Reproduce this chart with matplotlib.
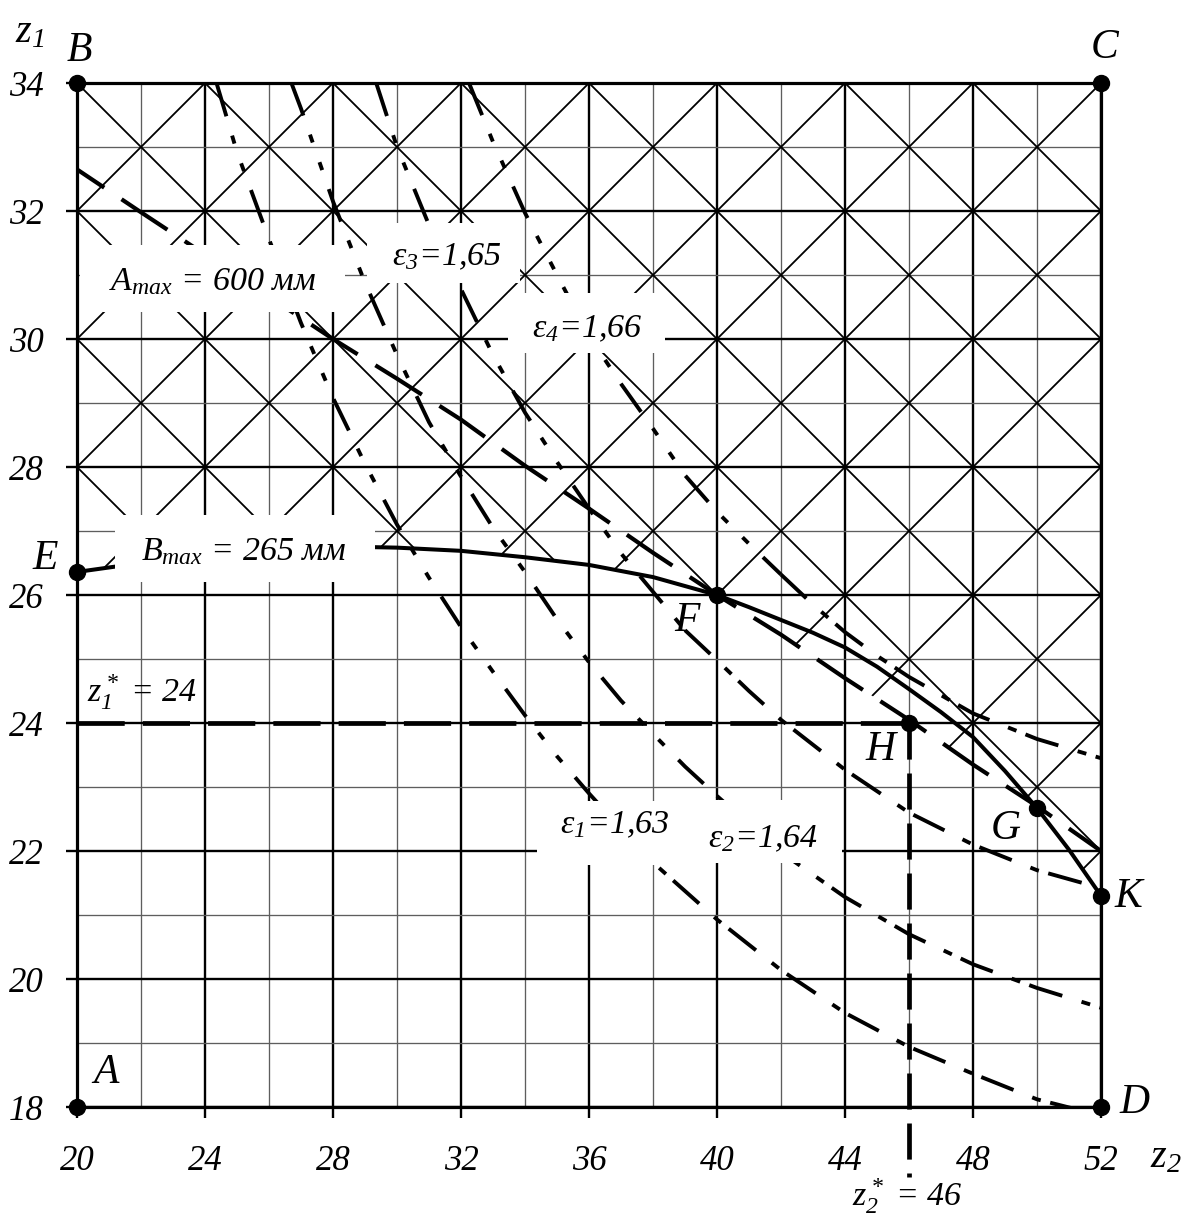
import numpy as np
import matplotlib
matplotlib.use("Agg")
import matplotlib.pyplot as plt
from matplotlib.patches import Polygon, Rectangle

plt.rcParams["font.family"] = ["Liberation Serif", "DejaVu Serif"]
plt.rcParams["font.style"] = "italic"
plt.rcParams["mathtext.fontset"] = "custom"
plt.rcParams["mathtext.rm"] = "Liberation Serif:italic"
plt.rcParams["mathtext.it"] = "Liberation Serif:italic"
plt.rcParams["mathtext.bf"] = "Liberation Serif:italic:bold"
plt.rcParams["lines.scale_dashes"] = False

# Axes
z2_ticks = [20, 24, 28, 32, 36, 40, 44, 48, 52]
z1_ticks = [18, 20, 22, 24, 26, 28, 30, 32, 34]
z2_minor = [22, 26, 30, 34, 38, 42, 46, 50]
z1_minor = [19, 21, 23, 25, 27, 29, 31, 33]

# A_max = 600 mm (long dashes)
a_max_z2 = [20, 22, 24, 26, 28, 30, 32, 34, 36, 38, 40, 42, 44, 46, 48, 50, 52]
a_max_z1 = [32.65, 31.98, 31.32, 30.66, 30.0, 29.38, 28.74, 28.02, 27.35,
            26.66, 26.0, 25.38, 24.7, 24.05, 23.35, 22.7, 22.0]

# B_max = 265 mm (solid)
b_max_z2 = [20, 22, 24, 26, 28, 30, 32, 34, 36, 38, 40, 41, 42, 43, 44, 45,
            46, 47, 48, 49, 50, 51, 52]
b_max_z1 = [26.36, 26.5, 26.62, 26.71, 26.76, 26.74, 26.69, 26.59, 26.47,
            26.28, 26.0, 25.81, 25.61, 25.41, 25.18, 24.88, 24.53, 24.17,
            23.78, 23.25, 22.67, 22.02, 21.3]

# contact ratio isolines
eps1_z2 = [24.36, 25, 26, 27, 28, 29, 30, 31, 32, 33, 34, 35, 36, 37, 38,
           40, 42, 44, 46, 48, 50, 51.1]
eps1_z1 = [34.0, 32.92, 31.56, 30.25, 29.08, 28.05, 27.1, 26.27, 25.5, 24.8,
           24.12, 23.48, 22.9, 22.35, 21.82, 20.93, 20.14, 19.47, 18.94,
           18.52, 18.12, 17.98]
eps2_z2 = [26.7, 27, 28, 29, 30, 31, 32, 33, 34, 35, 36, 37, 38, 39, 40,
           42, 44, 46, 48, 50, 52]
eps2_z1 = [34.0, 33.6, 32.15, 30.88, 29.75, 28.7, 27.85, 27.05, 26.36, 25.62,
           24.95, 24.35, 23.83, 23.32, 22.86, 21.98, 21.28, 20.7, 20.23,
           19.86, 19.55]
eps3_z2 = [29.35, 30, 31, 32, 33, 34, 35, 36, 37, 38, 39, 40, 41, 42, 44,
           46, 48, 50, 52]
eps3_z1 = [34.0, 33.0, 31.78, 30.78, 29.75, 28.85, 28.08, 27.35, 26.65,
           26.05, 25.45, 24.98, 24.5, 24.05, 23.27, 22.6, 22.1, 21.7, 21.42]
eps4_z2 = [32.25, 33, 34, 35, 36, 37, 38, 39, 40, 41, 42, 43, 44, 45, 46,
           48, 50, 52]
eps4_z1 = [34.0, 33.08, 31.97, 31.0, 30.05, 29.3, 28.6, 27.87, 27.3, 26.8,
           26.32, 25.85, 25.42, 25.05, 24.72, 24.15, 23.75, 23.45]
eps_labels = [r"$\varepsilon_1$=1,63", r"$\varepsilon_2$=1,64",
              r"$\varepsilon_3$=1,65", r"$\varepsilon_4$=1,66"]

# chosen tooth numbers
z1_star = 24
z2_star = 46

# named points
point_names = ["A", "B", "C", "D", "E", "F", "G", "H", "K"]
point_z2 = [20, 20, 52, 52, 20, 40, 50, 46, 52]
point_z1 = [18, 34, 34, 18, 26.36, 26, 22.67, 24, 21.3]

# layout (not data): label offsets, white boxes, text anchors
letter_pos = {"A": (20.9, 18.53), "B": (20.06, 34.5), "C": (52.12, 34.55),
              "D": (53.06, 18.06), "E": (19.0, 26.56), "F": (39.06, 25.6),
              "G": (49.03, 22.34), "H": (45.1, 23.58), "K": (52.84, 21.28)}
eps_split = [37, 40, 39, 42]
eps_text_pos = [(36.81, 22.28), (41.44, 22.06), (31.56, 31.16), (35.95, 30.03)]
white_boxes = [(20.09, 30.42, 8.29, 1.05), (29.06, 30.875, 4.78, 0.94),
               (33.47, 29.78, 4.905, 0.94), (21.19, 26.2, 8.12, 1.05),
               (34.375, 21.78, 4.875, 1.0), (39.0, 21.81, 4.91, 0.99)]

DASH_UPPER = (0, (25, 14.5, 6, 15, 6, 14.5))
DASH_LOWER = (0, (25, 14.5, 6.5, 7))
LABEL_SIZE = 24.5


def draw_grid(ax):
    """ """

    ax.set_xlim(z2_ticks[0], z2_ticks[-1])
    ax.set_ylim(z1_ticks[0], z1_ticks[-1])
    ax.set_xticks(z2_ticks)
    ax.set_yticks(z1_ticks)
    ax.set_xticks(z2_minor, minor=True)
    ax.set_yticks(z1_minor, minor=True)
    ax.grid(which="major", color="black", linewidth=1.7)
    ax.grid(which="minor", color="#5e5e5e", linewidth=0.95)
    ax.set_axisbelow(True)
    ax.tick_params(which="minor", length=0)
    ax.tick_params(axis="x", which="major", length=8, width=1.7, pad=19,
                   labelsize=25)
    ax.tick_params(axis="y", which="major", length=8, width=1.7, pad=16,
                   labelsize=25)
    for lbl in ax.get_xticklabels() + ax.get_yticklabels():
        lbl.set_fontstyle("italic")
    for spine in ax.spines.values():
        spine.set_linewidth(2.3)


def draw_hatch(ax):
    """Diamond hatching above the lower envelope of A_max and B_max."""

    zz = np.linspace(z2_ticks[0], z2_ticks[-1], 641)
    lower = np.minimum(np.interp(zz, a_max_z2, a_max_z1),
                       np.interp(zz, b_max_z2, b_max_z1))
    verts = [(z2_ticks[0], z1_ticks[-1]), (z2_ticks[-1], z1_ticks[-1])]
    verts += list(zip(zz[::-1], lower[::-1]))
    region = Polygon(verts, closed=True, transform=ax.transData,
                     facecolor="none", edgecolor="none")
    ax.add_patch(region)

    xs = np.array([z2_ticks[0], z2_ticks[-1]], dtype=float)
    for c in range(28, 61, 2):
        ln, = ax.plot(xs, c - 0.5 * xs, color="black", lw=1.3, zorder=1.5)
        ln.set_clip_path(region)
    for c in range(-8, 25, 2):
        ln, = ax.plot(xs, c + 0.5 * xs, color="black", lw=1.3, zorder=1.5)
        ln.set_clip_path(region)


def draw_curves(ax):
    """ """

    ax.plot(a_max_z2, a_max_z1, color="black", lw=3.0,
            ls=(16, (39.6, 15)), zorder=3)
    ax.plot(b_max_z2, b_max_z1, color="black", lw=2.9, zorder=3)

    eps_curves = [(eps1_z2, eps1_z1), (eps2_z2, eps2_z1),
                  (eps3_z2, eps3_z1), (eps4_z2, eps4_z1)]
    for (xs, ys), split in zip(eps_curves, eps_split):
        xs = np.asarray(xs)
        ys = np.asarray(ys)
        up = xs <= split
        low = xs >= split
        ax.plot(xs[up], ys[up], color="black", lw=2.8, ls=DASH_UPPER,
                zorder=3)
        ax.plot(xs[low], ys[low], color="black", lw=2.8, ls=DASH_LOWER,
                zorder=3)

    # z1* and z2* guide lines
    ax.plot([z2_ticks[0], z2_star], [z1_star, z1_star], color="black",
            lw=3.4, ls=(0, (34, 13)), zorder=3)
    ax.plot([z2_star, z2_star], [z1_star, 16.9], color="black", lw=3.4,
            ls=(0, (26, 10)), zorder=3, clip_on=False)


def draw_labels(ax):
    """ """

    for (x, y, w, h) in white_boxes:
        ax.add_patch(Rectangle((x, y), w, h, facecolor="white",
                               edgecolor="none", zorder=5))

    kw = dict(fontsize=LABEL_SIZE, ha="center", va="baseline", zorder=6)
    ax.text(24.25, 30.77, r"$A_{max}$ = 600 мм", **kw)
    ax.text(25.2, 26.55, r"$B_{max}$ = 265 мм", **kw)
    for label, (x, y) in zip(eps_labels, eps_text_pos):
        ax.text(x, y, label, **kw)
    ax.text(22.02, 24.33, r"$z_1^*$ = 24", **kw)
    ax.text(45.94, 16.46, r"$z_2^*$ = 46", clip_on=False, **kw)

    # axis names
    ax.text(18.53, 34.78, r"$z_1$", fontsize=29, ha="center", va="center",
            clip_on=False)
    ax.text(54.03, 17.2, r"$z_2$", fontsize=29, ha="center", va="center",
            clip_on=False)

    # points
    ax.plot(point_z2, point_z1, "o", color="black", markersize=11.5,
            zorder=8, clip_on=False)
    for name in point_names:
        x, y = letter_pos[name]
        ax.text(x, y, name, fontsize=30, ha="center", va="center",
                zorder=9, clip_on=False)


fig = plt.figure(figsize=(11.87, 12.2), dpi=100)
ax = fig.add_axes([77 / 1187, 113 / 1220, 1024 / 1187, 1024 / 1220])

draw_grid(ax)
draw_hatch(ax)
draw_curves(ax)
draw_labels(ax)

fig.savefig("out.png", dpi=100)
